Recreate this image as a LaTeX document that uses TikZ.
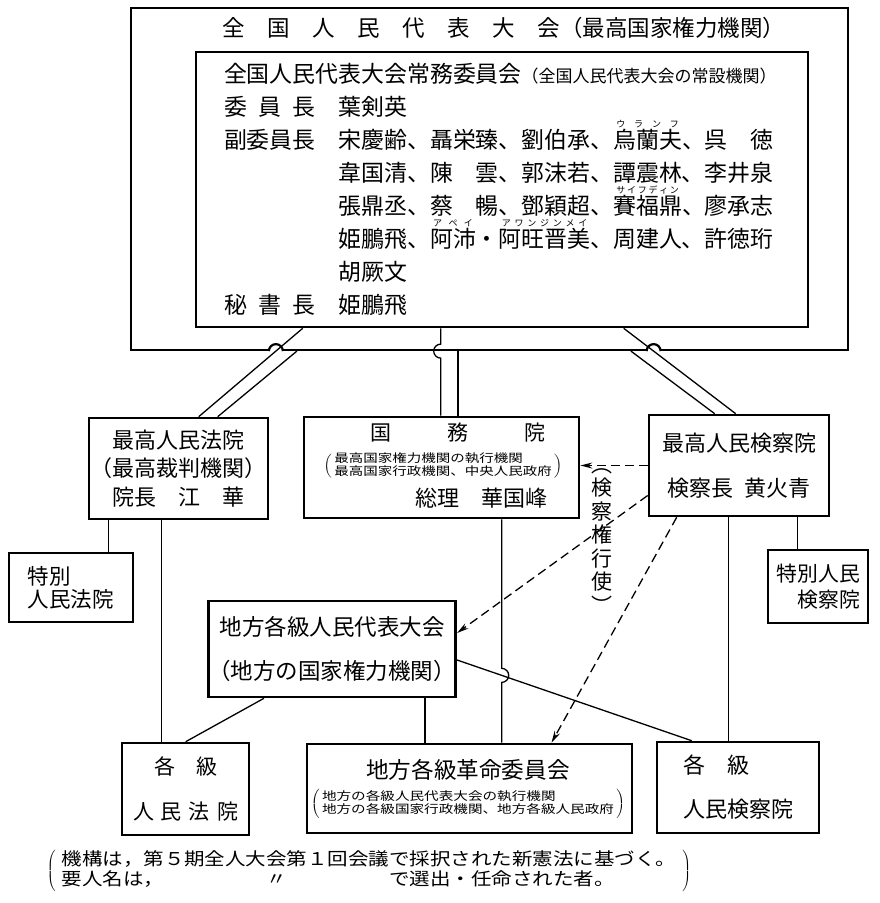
\documentclass[tikz,border=0pt]{standalone}
\usepackage{fontspec}
\setmainfont{Noto Sans CJK JP}
\usepackage{graphicx}
\usetikzlibrary{arrows.meta,positioning,calc}
\newsavebox{\furibox}
\newcommand{\rubyfont}{\fontsize{9}{9}\selectfont}
\newcommand{\furi}[2]{\sbox{\furibox}{#1}\rlap{\raisebox{21pt}[0pt][0pt]{\makebox[\wd\furibox]{\hspace{3pt}{\rubyfont #2}\hspace{3pt}}}}\usebox{\furibox}}
\newcommand{\lab}[1]{\makebox[4em][s]{#1}\hspace{1em}}
\newcommand{\notepair}[2]{\scalebox{1}[0.8]{$\left(\,\begin{tabular}{@{}l@{}}#1\\#2\end{tabular}\,\right)$}}

\begin{document}
\begin{tikzpicture}[
  x=1pt, y=-1pt,
  box/.style={draw, line width=2.6pt, inner sep=0pt, align=center},
  link/.style={line width=1.3pt},
  darr/.style={line width=1.3pt, dash pattern=on 9pt off 5pt, -{Stealth[length=12pt,width=6pt]}},
]
  \path[use as bounding box, fill=white] (0,0) rectangle (879,903);

  \node[box, line width=2.2pt, minimum width=717, minimum height=342] (npc) at (489.5,179) {};
  \node[font=\fontsize{22.5}{26}\selectfont] (npctitle) at (504,28) {全　国　人　民　代　表　大　会（最高国家権力機関）};
  \node[box, align=left, text width=556, inner xsep=28, minimum height=275, font=\fontsize{22.9}{33}\selectfont] (committee) at (502,189.5) {%
    全国人民代表大会常務委員会{\fontsize{17}{33}\selectfont（全国人民代表大会の常設機関）}\\
    \lab{委\hfill 員\hfill 長}葉剣英\\
    \lab{副委員長}宋慶齢、聶栄臻、劉伯承、\furi{烏蘭夫}{ウ\hfill ラ\hfill ン\hfill フ}、呉　徳\\
    \lab{\hfill}韋国清、陳　雲、郭沫若、譚震林、李井泉\\
    \lab{\hfill}張鼎丞、蔡　暢、鄧穎超、\furi{賽福鼎}{サ\hfill イ\hfill フ\hfill デ\hfill ィ\hfill ン}、廖承志\\
    \lab{\hfill}姫鵬飛、\furi{阿沛}{ア\hfill ペ\hfill イ}・\furi{阿旺晋美}{ア\hfill ワ\hfill ン\hfill ジ\hfill ン\hfill メ\hfill イ}、周建人、許徳珩\\
    \lab{\hfill}胡厥文\\
    \lab{秘\hfill 書\hfill 長}姫鵬飛};

  \node[box, minimum width=179, minimum height=101, font=\fontsize{22}{28.5}\selectfont] (court) at (178.5,468.5) {最高人民法院\\（最高裁判機関）\\院長　江　華};
  \node[box, minimum width=275, minimum height=101] (council) at (441.5,467.5) {};
  \node[font=\fontsize{21}{21}\selectfont] (councilname) at (458,433) {\makebox[175pt][s]{国\hfill 務\hfill 院}};
  \node[font=\fontsize{14.5}{14.5}\selectfont] (councilnote) at (443,466) {\notepair{最高国家権力機関の執行機関}{最高国家行政機関、中央人民政府}};
  \node[font=\fontsize{22}{22}\selectfont] (councilhead) at (481,498) {総理　華国峰};
  \node[box, minimum width=180, minimum height=101, font=\fontsize{22}{45}\selectfont] (procuracy) at (739,465.5) {最高人民検察院\\検察長\hspace{0.5em}黄火青};

  \node[box, minimum width=124, minimum height=69, align=left, text width=87, font=\fontsize{21.5}{23}\selectfont] (specialcourt) at (71,587.5) {特別\\人民法院};
  \node[box, minimum width=100, minimum height=73, align=right, text width=84, font=\fontsize{20.8}{26}\selectfont] (specialproc) at (818,586.5) {特別人民\\検察院};
  \node[box, minimum width=244, minimum height=96, font=\fontsize{22.5}{44}\selectfont] (localcongress) at (332,649) {地方各級人民代表大会\\（地方の国家権力機関）};

  \node[box, minimum width=127, minimum height=92, font=\fontsize{21}{45}\selectfont] (localcourt) at (185.5,789) {各　級\\\makebox[105pt][s]{人\hfill 民\hfill 法\hfill 院}};
  \node[box, minimum width=325, minimum height=89] (revcommittee) at (469.5,788.5) {};
  \node[font=\fontsize{22.6}{22.6}\selectfont] (revname) at (468,770) {地方各級革命委員会};
  \node[font=\fontsize{14.6}{14.6}\selectfont] (revnote) at (468,804) {\notepair{地方の各級人民代表大会の執行機関}{地方の各級国家行政機関、地方各級人民政府}};
  \node[box, minimum width=162, minimum height=91, align=left, text width=110, font=\fontsize{22}{44}\selectfont] (localproc) at (738,787.5) {各　級\\人民検察院};

  \node[font=\fontsize{21}{23.5}\selectfont, align=center, inner sep=0pt] (actlabel) at (602,541) {︵\\検\\察\\権\\行\\使\\︶};
  \node[font=\fontsize{20.5}{22}\selectfont, inner sep=0pt] (footnote) at (369,871) {\scalebox{1}[0.86]{$\left(\;\begin{tabular}{@{}l@{}}機構は，第５期全人大会第１回会議で採択された新憲法に基づく。\\要人名は，\makebox[11em]{〃}で選出・任命された者。\end{tabular}\;\right)$}};

  \coordinate (sw) at (npc.south west);
  \coordinate (se) at (npc.south east);
  \coordinate (ca1) at ($(committee.south west)+(108,0)$);
  \coordinate (ca2) at ($(court.north west)+(111,0)$);
  \coordinate (ce1) at ($(committee.south west)+(429,0)$);
  \coordinate (ce2) at ($(procuracy.north west)+(88,0)$);
  \coordinate (hopl) at (intersection of ca1--ca2 and sw--se);
  \coordinate (hopr) at (intersection of ce1--ce2 and sw--se);
  \foreach \h in {hopl,hopr} {
    \fill[white] ($(\h)+(-7,-2)$) rectangle ($(\h)+(7,2)$);
    \draw[line width=2.2pt] ($(\h)+(-7,0)$) arc[start angle=180, end angle=360, radius=7];
  }
  \draw[link] (ca1) -- (ca2);
  \draw[link] ($(npc.south west)+(167,0)$) -- ($(court.north west)+(130,0)$);
  \coordinate (cc1) at ($(committee.south west)+(246,0)$);
  \draw[link] (cc1) -- ($(cc1 |- npc.south)+(0,-7)$) arc[start angle=270, end angle=90, radius=7] -- (cc1 |- council.north);
  \coordinate (cd1) at ($(npc.south west)+(328,0)$);
  \draw[link] (cd1) -- (cd1 |- council.north);
  \draw[link] (ce1) -- (ce2);
  \draw[link] ($(npc.south west)+(501,0)$) -- ($(procuracy.north west)+(67,0)$);

  \coordinate (cs1) at ($(court.south west)+(21,0)$);
  \coordinate (cs2) at ($(court.south west)+(74,0)$);
  \draw[link] (cs1) -- (cs1 |- specialcourt.north);
  \draw[link] (cs2) -- (cs2 |- localcourt.north);
  \coordinate (ps1) at ($(procuracy.south west)+(150,0)$);
  \coordinate (ps2) at ($(procuracy.south west)+(81,0)$);
  \draw[link] (ps1) -- (ps1 |- specialproc.north);
  \draw[link] (ps2) -- (ps2 |- localproc.north);
  \coordinate (lc1) at ($(localcongress.east)+(0,11)$);
  \coordinate (lc2) at ($(localproc.north west)+(36,0)$);
  \draw[link] (lc1) -- (lc2);
  \coordinate (gs1) at ($(council.south west)+(199,0)$);
  \coordinate (gs2) at (gs1 |- revcommittee.north);
  \coordinate (hopm) at (intersection of gs1--gs2 and lc1--lc2);
  \draw[link] (gs1) -- ($(hopm)+(0,-7)$) arc[start angle=270, end angle=450, radius=7] -- (gs2);
  \coordinate (ls1) at ($(localcongress.south west)+(218,0)$);
  \draw[link] (ls1) -- (ls1 |- revcommittee.north);
  \draw[link] ($(localcongress.south west)+(57,0)$) -- ($(localcourt.north west)+(65,0)$);

  \draw[darr] (procuracy.west) -- (procuracy.west -| council.east);
  \draw[darr] ($(procuracy.west)+(0,30)$) -- ($(localcongress.east)+(0,-16)$);
  \draw[darr] ($(procuracy.south west)+(29,0)$) -- ($(revcommittee.north)+(82,0)$);
\end{tikzpicture}
\end{document}
